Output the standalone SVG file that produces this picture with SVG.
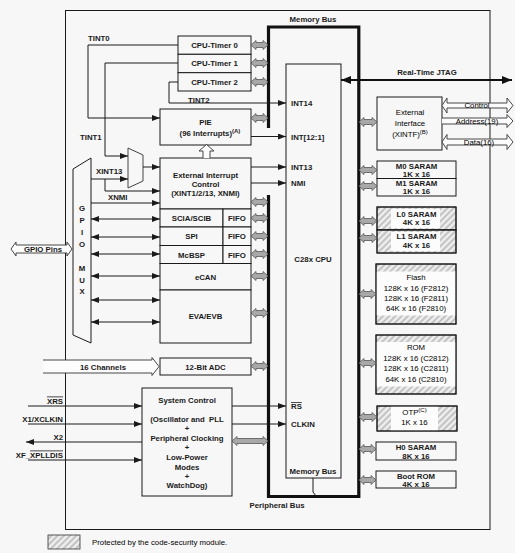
<svg xmlns="http://www.w3.org/2000/svg" width="515" height="553" viewBox="0 0 515 553">
<defs>
<style>
.t{font-family:"Liberation Sans",Arial,sans-serif;font-size:7.8px;font-weight:bold;fill:#1a1a1a;text-anchor:middle}
.s{text-anchor:start}
.e{text-anchor:end}
.r{font-weight:normal;fill:#000}
.b{fill:#f7f7f7;stroke:#1a1a1a;stroke-width:1}
.hb{fill:url(#hatch);stroke:#1a1a1a;stroke-width:1}
.w{fill:#fcfcfc;stroke:none}
.ln{fill:none;stroke:#1a1a1a;stroke-width:1}
.ga{fill:#a8a8a8;stroke:#555;stroke-width:0.8}
.ho{fill:#fcfcfc;stroke:#333;stroke-width:0.9}
.bus{fill:none;stroke:#111;stroke-width:3.2}
</style>
<marker id="ah" viewBox="0 0 8 6" refX="8" refY="3" markerWidth="8" markerHeight="6" markerUnits="userSpaceOnUse" orient="auto-start-reverse"><path d="M0,0L8,3L0,6z" fill="#1a1a1a"/></marker>
<marker id="ahb" viewBox="0 0 10 8" refX="10" refY="4" markerWidth="10" markerHeight="8" markerUnits="userSpaceOnUse" orient="auto-start-reverse"><path d="M0,0L10,4L0,8z" fill="#111"/></marker>
<pattern id="hatch" width="4.4" height="4.4" patternUnits="userSpaceOnUse" patternTransform="rotate(45)"><rect width="4.4" height="4.4" fill="#f0f0f0"/><line x1="1.5" y1="0" x2="1.5" y2="4.4" stroke="#c0c0c0" stroke-width="2"/></pattern>
</defs>
<rect width="515" height="553" fill="#f7f7f7"/>
<rect x="65.5" y="10.5" width="424.5" height="519" fill="none" stroke="#1a1a1a" stroke-width="1"/>

<g id="buses">
<path class="bus" d="M268.5,128 V27 H358.8 V496.5 H268.5 V195"/>
<text class="t" x="313" y="22">Memory Bus</text>
<text class="t" x="277" y="508">Peripheral Bus</text>
</g>

<g id="cpu">
<rect class="b" x="286" y="64" width="55" height="414"/>
<text class="t" x="313" y="262">C28x CPU</text>
<text class="t" x="313" y="474">Memory Bus</text>
<text class="t s" x="291" y="106">INT14</text>
<text class="t s" x="291" y="139.5">INT[12:1]</text>
<text class="t s" x="291" y="170">INT13</text>
<text class="t s" x="291" y="186">NMI</text>
<text class="t s" x="291" y="409"><tspan style="text-decoration:overline">RS</tspan></text>
<text class="t s" x="291" y="427">CLKIN</text>
</g>

<g id="timer0"><rect class="b" x="178" y="36" width="73" height="18.3"/><text class="t" x="214.5" y="48">CPU-Timer 0</text></g>
<g id="timer1"><rect class="b" x="178" y="54.3" width="73" height="18.4"/><text class="t" x="214.5" y="66.3">CPU-Timer 1</text></g>
<g id="timer2"><rect class="b" x="178" y="72.7" width="73" height="18.3"/><text class="t" x="214.5" y="84.6">CPU-Timer 2</text></g>

<g id="pie"><rect class="b" x="160" y="109" width="91" height="36"/><text class="t" x="205.5" y="124.5">PIE</text><text class="t" x="210" y="136">(96 Interrupts)<tspan font-size="6" dy="-3">(A)</tspan></text></g>

<g id="extint"><rect class="b" x="160" y="158" width="91" height="51"/>
<text class="t" x="205.5" y="178">External Interrupt</text>
<text class="t" x="205.5" y="187">Control</text>
<text class="t" x="205.5" y="196">(XINT1/2/13, XNMI)</text></g>

<g id="sci"><rect class="b" x="160" y="209" width="63" height="18"/><rect class="b" x="223" y="209" width="28" height="18"/><text class="t" x="191.5" y="221">SCIA/SCIB</text><text class="t" x="237" y="221">FIFO</text></g>
<g id="spi"><rect class="b" x="160" y="227" width="63" height="18.5"/><rect class="b" x="223" y="227" width="28" height="18.5"/><text class="t" x="191.5" y="239">SPI</text><text class="t" x="237" y="239">FIFO</text></g>
<g id="mcbsp"><rect class="b" x="160" y="245.5" width="63" height="18"/><rect class="b" x="223" y="245.5" width="28" height="18"/><text class="t" x="191.5" y="257.5">McBSP</text><text class="t" x="237" y="257.5">FIFO</text></g>
<g id="ecan"><rect class="b" x="160" y="263.5" width="91" height="26.5"/><text class="t" x="205.5" y="279.5">eCAN</text></g>
<g id="ev"><rect class="b" x="160" y="290" width="91" height="53"/><text class="t" x="205.5" y="319">EVA/EVB</text></g>
<g id="adc"><rect class="b" x="160" y="358" width="91" height="17"/><text class="t" x="205.5" y="369.5">12-Bit ADC</text></g>

<g id="mux"><path d="M128,148 L143,155 V181 L128,188 Z" fill="#f7f7f7" stroke="#444" stroke-width="1"/></g>

<g id="gpiomux"><path class="b" d="M73,169 L91,158 V343 L73,335 Z"/>
<text class="t" x="82" y="211">G</text><text class="t" x="82" y="223">P</text><text class="t" x="82" y="235">I</text><text class="t" x="82" y="247">O</text>
<text class="t" x="82" y="271">M</text><text class="t" x="82" y="283">U</text><text class="t" x="82" y="294">X</text></g>

<g id="gpiopins"><path class="ho" d="M11,249 L16,242 V245 H67 V242 L72,249 L67,256 V253 H16 V256 Z"/><text class="t" x="43" y="252">GPIO Pins</text></g>

<g id="channels"><path class="ho" d="M43,360 H152 V357.5 L159,366.5 L152,375.5 V373 H43"/><text class="t" x="103" y="369.5">16 Channels</text></g>

<g id="sysctl"><rect class="b" x="142" y="388" width="90" height="108"/>
<text class="t" x="187" y="403">System Control</text>
<text class="t" x="187" y="422" style="white-space:pre">(Oscillator and  PLL</text>
<text class="t" x="187" y="431">+</text>
<text class="t" x="187" y="441">Peripheral Clocking</text>
<text class="t" x="187" y="450">+</text>
<text class="t" x="187" y="460">Low-Power</text>
<text class="t" x="187" y="470">Modes</text>
<text class="t" x="187" y="479">+</text>
<text class="t" x="187" y="488">WatchDog)</text></g>

<g id="pins">
<text class="t e" x="63" y="403.5"><tspan style="text-decoration:overline">XRS</tspan></text>
<text class="t e" x="63" y="421.5">X1/XCLKIN</text>
<text class="t e" x="63" y="439.5">X2</text>
<text class="t e" x="63" y="457.5">XF_<tspan style="text-decoration:overline">XPLLDIS</tspan></text>
</g>

<g id="xintf"><rect class="b" x="377" y="97" width="65" height="53"/>
<text class="t r" x="410" y="115">External</text>
<text class="t r" x="410" y="126">Interface</text>
<text class="t r" x="410" y="137">(XINTF)<tspan font-size="6" dy="-3">(B)</tspan></text></g>

<g id="xbus">
<path class="ho" d="M442,105.5 L447,98 V103 H507 V98 L513,105.5 L507,113 V108 H447 V113 Z"/>
<text class="t r" x="477" y="108.3">Control</text>
<path class="ho" d="M442,118 H507 V114.5 L513,121 L507,127.5 V124 H442"/>
<text class="t r" x="477" y="123.8">Address(19)</text>
<path class="ho" d="M442,142 L447,134.5 V139 H507 V134.5 L513,142 L507,149.5 V145 H447 V149.5 Z"/>
<text class="t r" x="479" y="144.8">Data(16)</text>
</g>

<g id="m0"><rect class="b" x="377" y="161" width="79" height="17.5"/><text class="t" x="416.5" y="168.5">M0 SARAM</text><text class="t" x="416.5" y="176.5">1K x 16</text></g>
<g id="m1"><rect class="b" x="377" y="178.5" width="79" height="17.5"/><text class="t" x="416.5" y="186">M1 SARAM</text><text class="t" x="416.5" y="194">1K x 16</text></g>

<g id="l0"><rect class="hb" x="377" y="207" width="79" height="23"/><rect class="w" x="391" y="209" width="49" height="19"/><rect x="377" y="207" width="79" height="23" fill="none" stroke="#1a1a1a"/><text class="t" x="416.5" y="216.5">L0 SARAM</text><text class="t" x="416.5" y="225">4K x 16</text></g>
<g id="l1"><rect class="hb" x="377" y="230" width="79" height="23"/><rect class="w" x="391" y="232" width="49" height="19"/><rect x="377" y="230" width="79" height="23" fill="none" stroke="#1a1a1a"/><text class="t" x="416.5" y="239">L1 SARAM</text><text class="t" x="416.5" y="248">4K x 16</text></g>

<g id="flash"><rect class="hb" x="376" y="264" width="80" height="60"/><rect class="w" x="376.5" y="271.5" width="79" height="44"/><rect x="376" y="264" width="80" height="60" fill="none" stroke="#1a1a1a"/>
<text class="t r" x="416" y="280">Flash</text>
<text class="t r" x="416" y="290.5">128K x 16 (F2812)</text>
<text class="t r" x="416" y="301">128K x 16 (F2811)</text>
<text class="t r" x="416" y="311">64K x 16 (F2810)</text></g>

<g id="rom"><rect class="hb" x="376" y="335" width="80" height="59"/><rect class="w" x="376.5" y="342" width="79" height="44.5"/><rect x="376" y="335" width="80" height="59" fill="none" stroke="#1a1a1a"/>
<text class="t r" x="416" y="350">ROM</text>
<text class="t r" x="416" y="360.5">128K x 16 (C2812)</text>
<text class="t r" x="416" y="371">128K x 16 (C2811)</text>
<text class="t r" x="416" y="381.5">64K x 16 (C2810)</text></g>

<g id="otp"><rect class="hb" x="377" y="406" width="80" height="25"/><rect class="w" x="391" y="406.5" width="47" height="24"/><rect x="377" y="406" width="80" height="25" fill="none" stroke="#1a1a1a"/>
<text class="t r" x="414.5" y="415">OTP<tspan font-size="6" dy="-3">(C)</tspan></text>
<text class="t r" x="414.5" y="425">1K x 16</text></g>

<g id="h0"><rect class="b" x="376" y="442" width="80" height="18"/><text class="t" x="416" y="450">H0 SARAM</text><text class="t" x="416" y="458.5">8K x 16</text></g>
<g id="bootrom"><rect class="b" x="376" y="471" width="80" height="17"/><text class="t" x="416" y="478.5">Boot ROM</text><text class="t" x="416" y="486.5">4K x 16</text></g>

<g id="connectors">
<path class="ln" d="M178,45 H88 V118 H160" marker-end="url(#ah)"/>
<path class="ln" d="M178,63 H105 V156 H128" marker-end="url(#ah)"/>
<path class="ln" d="M178,82 H169 V103 H286" marker-end="url(#ah)"/>
<path class="ln" d="M251,136.5 H286" marker-end="url(#ah)"/>
<path class="ln" d="M143,167 H160" marker-end="url(#ah)"/>
<path class="ln" d="M91,179 H128" marker-end="url(#ah)"/>
<path class="ln" d="M105,179 V191 H160" marker-end="url(#ah)"/>
<path class="ln" d="M91,203 H160" marker-end="url(#ah)"/>
<path class="ln" d="M251,167 H286" marker-end="url(#ah)"/>
<path class="ln" d="M251,183 H286" marker-end="url(#ah)"/>
<path class="ln" d="M91,219 H160" marker-start="url(#ah)" marker-end="url(#ah)"/>
<path class="ln" d="M91,237 H160" marker-start="url(#ah)" marker-end="url(#ah)"/>
<path class="ln" d="M91,254 H160" marker-start="url(#ah)" marker-end="url(#ah)"/>
<path class="ln" d="M91,276 H160" marker-start="url(#ah)" marker-end="url(#ah)"/>
<path class="ln" d="M91,300 H160" marker-start="url(#ah)" marker-end="url(#ah)"/>
<path class="ln" d="M91,322 H160" marker-start="url(#ah)" marker-end="url(#ah)"/>
<path class="ln" d="M28,406 H142" marker-end="url(#ah)"/>
<path class="ln" d="M28,424 H142" marker-end="url(#ah)"/>
<path class="ln" d="M142,442 H26" marker-end="url(#ah)"/>
<path class="ln" d="M28,460 H142" marker-end="url(#ah)"/>
<path class="ln" d="M232,406 H286" marker-end="url(#ah)"/>
<path class="ln" d="M232,424 H286" marker-end="url(#ah)"/>
<path fill="none" stroke="#111" stroke-width="2" d="M341,80 H512" marker-start="url(#ahb)" marker-end="url(#ahb)"/>
<text class="t" x="427" y="75">Real-Time JTAG</text>
<path class="ln" d="M313,478 V492 L316,496" stroke-width="2"/>
<path d="M203,158 V151 H199 L206.5,144.5 L214,151 H210 V158" fill="#fcfcfc" stroke="#333" stroke-width="0.9"/>
<text class="t s" x="88" y="41">TINT0</text>
<text class="t s" x="80" y="140">TINT1</text>
<text class="t s" x="188" y="102.5">TINT2</text>
<text class="t s" x="96" y="174">XINT13</text>
<text class="t s" x="108" y="200">XNMI</text>
<path class="ga" d="M251,45L256,40.5V42.5H263V40.5L268,45L263,49.5V47.5H256V49.5Z"/>
<path class="ga" d="M251,63L256,58.5V60.5H263V58.5L268,63L263,67.5V65.5H256V67.5Z"/>
<path class="ga" d="M251,82L256,77.5V79.5H263V77.5L268,82L263,86.5V84.5H256V86.5Z"/>
<path class="ga" d="M251,118L256,113.5V115.5H263V113.5L268,118L263,122.5V120.5H256V122.5Z"/>
<path class="ga" d="M251,202L256,197.5V199.5H263V197.5L268,202L263,206.5V204.5H256V206.5Z"/>
<path class="ga" d="M251,218L256,213.5V215.5H263V213.5L268,218L263,222.5V220.5H256V222.5Z"/>
<path class="ga" d="M251,236L256,231.5V233.5H263V231.5L268,236L263,240.5V238.5H256V240.5Z"/>
<path class="ga" d="M251,254L256,249.5V251.5H263V249.5L268,254L263,258.5V256.5H256V258.5Z"/>
<path class="ga" d="M251,276L256,271.5V273.5H263V271.5L268,276L263,280.5V278.5H256V280.5Z"/>
<path class="ga" d="M251,313L256,308.5V310.5H263V308.5L268,313L263,317.5V315.5H256V317.5Z"/>
<path class="ga" d="M251,366L256,361.5V363.5H263V361.5L268,366L263,370.5V368.5H256V370.5Z"/>
<path class="ga" d="M232,441L237,436.5V438.5H263V436.5L268,441L263,445.5V443.5H237V445.5Z"/>
<path class="ga" d="M359,122L364,117.5V119.5H372V117.5L377,122L372,126.5V124.5H364V126.5Z"/>
<path class="ga" d="M359,170L364,165.5V167.5H372V165.5L377,170L372,174.5V172.5H364V174.5Z"/>
<path class="ga" d="M359,186L364,181.5V183.5H372V181.5L377,186L372,190.5V188.5H364V190.5Z"/>
<path class="ga" d="M359,221L364,216.5V218.5H372V216.5L377,221L372,225.5V223.5H364V225.5Z"/>
<path class="ga" d="M359,238L364,233.5V235.5H372V233.5L377,238L372,242.5V240.5H364V242.5Z"/>
<path class="ga" d="M359,294L364,289.5V291.5H371V289.5L376,294L371,298.5V296.5H364V298.5Z"/>
<path class="ga" d="M359,363L364,358.5V360.5H371V358.5L376,363L371,367.5V365.5H364V367.5Z"/>
<path class="ga" d="M359,417L364,412.5V414.5H372V412.5L377,417L372,421.5V419.5H364V421.5Z"/>
<path class="ga" d="M359,449L364,444.5V446.5H371V444.5L376,449L371,453.5V451.5H364V453.5Z"/>
<path class="ga" d="M359,480L364,475.5V477.5H371V475.5L376,480L371,484.5V482.5H364V484.5Z"/>
</g>

<g id="legend"><rect x="48" y="535" width="32" height="14" fill="url(#hatch)" stroke="#333" stroke-width="0.8"/><text class="t s r" x="92" y="545">Protected by the code-security module.</text></g>
</svg>
